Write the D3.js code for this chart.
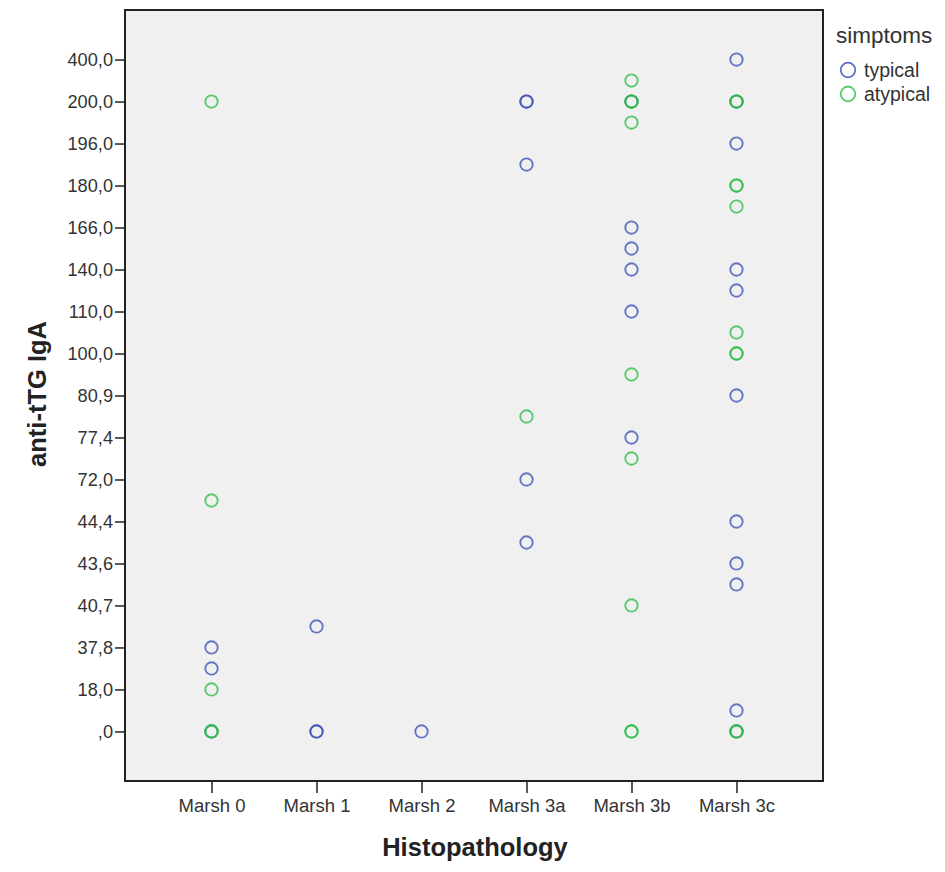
<!DOCTYPE html>
<html>
<head>
<meta charset="utf-8">
<script src="https://cdn.jsdelivr.net/npm/d3@7/dist/d3.min.js"></script>
<style>
  html, body { margin: 0; padding: 0; background: #ffffff; }
  svg { display: block; font-family: "Liberation Sans", Arial, sans-serif; }
</style>
</head>
<body>
<svg id="chart" width="945" height="872"></svg>
<script>
// ---- data ----
const categories = ["Marsh 0", "Marsh 1", "Marsh 2", "Marsh 3a", "Marsh 3b", "Marsh 3c"];

// ordinal levels of anti-tTG IgA (every other level is labelled on the axis; unlabelled ones estimated)
const yLevels = [",0", "9,0", "18,0", "30,0", "37,8", "39,0", "40,7", "42,0", "43,6", "44,0",
                 "44,4", "60,0", "72,0", "75,0", "77,4", "80,0", "80,9", "90,0", "100,0", "105,0",
                 "110,0", "120,0", "140,0", "150,0", "166,0", "170,0", "180,0", "190,0", "196,0", "198,0",
                 "200,0", "300,0", "400,0"];
const yTickLabels = yLevels.filter((d, i) => i % 2 === 0);

const seriesNames = ["typical", "atypical"];

const typicalCat = ["Marsh 0", "Marsh 0", "Marsh 0",
                    "Marsh 1", "Marsh 1", "Marsh 1",
                    "Marsh 2",
                    "Marsh 3a", "Marsh 3a", "Marsh 3a", "Marsh 3a", "Marsh 3a",
                    "Marsh 3b", "Marsh 3b", "Marsh 3b", "Marsh 3b", "Marsh 3b", "Marsh 3b",
                    "Marsh 3c", "Marsh 3c", "Marsh 3c", "Marsh 3c", "Marsh 3c", "Marsh 3c",
                    "Marsh 3c", "Marsh 3c", "Marsh 3c", "Marsh 3c", "Marsh 3c"];
const typicalVal = ["37,8", "30,0", ",0",
                    "39,0", ",0", ",0",
                    ",0",
                    "200,0", "200,0", "190,0", "72,0", "44,0",
                    "166,0", "150,0", "140,0", "110,0", "77,4", "200,0",
                    "400,0", "200,0", "196,0", "140,0", "120,0", "80,9",
                    "44,4", "43,6", "42,0", "9,0", ",0"];

const atypicalCat = ["Marsh 0", "Marsh 0", "Marsh 0", "Marsh 0", "Marsh 0",
                     "Marsh 3a",
                     "Marsh 3b", "Marsh 3b", "Marsh 3b", "Marsh 3b", "Marsh 3b", "Marsh 3b", "Marsh 3b", "Marsh 3b", "Marsh 3b",
                     "Marsh 3c", "Marsh 3c", "Marsh 3c", "Marsh 3c", "Marsh 3c", "Marsh 3c", "Marsh 3c", "Marsh 3c", "Marsh 3c", "Marsh 3c"];
const atypicalVal = ["200,0", "60,0", "18,0", ",0", ",0",
                     "80,0",
                     "300,0", "200,0", "200,0", "198,0", "90,0", "75,0", "40,7", ",0", ",0",
                     "200,0", "200,0", "180,0", "180,0", "170,0", "105,0", "100,0", "100,0", ",0", ",0"];

const colors = { typical: "#3E52B8", atypical: "#2EBE48" };

// ---- layout ----
const svg = d3.select("#chart");
const plot = { left: 125, right: 823, top: 10, bottom: 781 };

const x = d3.scalePoint().domain(categories).range([plot.left, plot.right]).padding(0.824);
const y = d3.scalePoint().domain(yLevels).range([plot.bottom, plot.top]).padding(2.36);

// background
svg.append("rect")
  .attr("x", plot.left).attr("y", plot.top)
  .attr("width", plot.right - plot.left).attr("height", plot.bottom - plot.top)
  .attr("fill", "#F0F0F0");

// points
const pts = [];
typicalCat.forEach((c, i) => pts.push({ s: "typical", c, v: typicalVal[i] }));
atypicalCat.forEach((c, i) => pts.push({ s: "atypical", c, v: atypicalVal[i] }));

svg.append("g").selectAll("circle").data(pts).join("circle")
  .attr("cx", d => x(d.c))
  .attr("cy", d => y(d.v))
  .attr("r", 6.2)
  .attr("fill", "none")
  .attr("stroke", d => colors[d.s])
  .attr("stroke-width", 1.9)
  .attr("stroke-opacity", 0.78);

// frame
svg.append("rect")
  .attr("x", plot.left).attr("y", plot.top)
  .attr("width", plot.right - plot.left).attr("height", plot.bottom - plot.top)
  .attr("fill", "none").attr("stroke", "#222").attr("stroke-width", 2);

// axes
const yAxis = d3.axisLeft(y).tickValues(yTickLabels).tickSize(10).tickPadding(2);
const gy = svg.append("g").attr("transform", `translate(${plot.left},0)`).call(yAxis);
gy.select(".domain").remove();
gy.selectAll(".tick line").attr("stroke", "#222").attr("stroke-width", 1.5);
gy.selectAll(".tick text").attr("font-size", 18.2).attr("fill", "#333")
  .attr("font-family", "'Liberation Sans', Arial, sans-serif");

const xAxis = d3.axisBottom(x).tickSize(11).tickPadding(6);
const gx = svg.append("g").attr("transform", `translate(0,${plot.bottom + 1})`).call(xAxis);
gx.select(".domain").remove();
gx.selectAll(".tick line").attr("stroke", "#222").attr("stroke-width", 1.5);
gx.selectAll(".tick text").attr("font-size", 18.5).attr("fill", "#333")
  .attr("font-family", "'Liberation Sans', Arial, sans-serif");

// axis titles
svg.append("text")
  .attr("x", 475).attr("y", 856)
  .attr("text-anchor", "middle")
  .attr("font-size", 25.5).attr("font-weight", "bold").attr("fill", "#222")
  .text("Histopathology");

svg.append("text")
  .attr("transform", `translate(46,394) rotate(-90)`)
  .attr("text-anchor", "middle")
  .attr("font-size", 25.5).attr("font-weight", "bold").attr("fill", "#222")
  .text("anti-tTG IgA");

// legend
const lg = svg.append("g");
lg.append("text").attr("x", 836).attr("y", 43)
  .attr("font-size", 22.5).attr("fill", "#333").text("simptoms");
seriesNames.forEach((s, i) => {
  lg.append("circle").attr("cx", 848).attr("cy", 70 + i * 24).attr("r", 7.3)
    .attr("fill", "none").attr("stroke", colors[s]).attr("stroke-width", 1.7).attr("stroke-opacity", 0.85);
  lg.append("text").attr("x", 864).attr("y", 77 + i * 24)
    .attr("font-size", 19.5).attr("fill", "#333").text(s);
});
</script>
</body>
</html>
